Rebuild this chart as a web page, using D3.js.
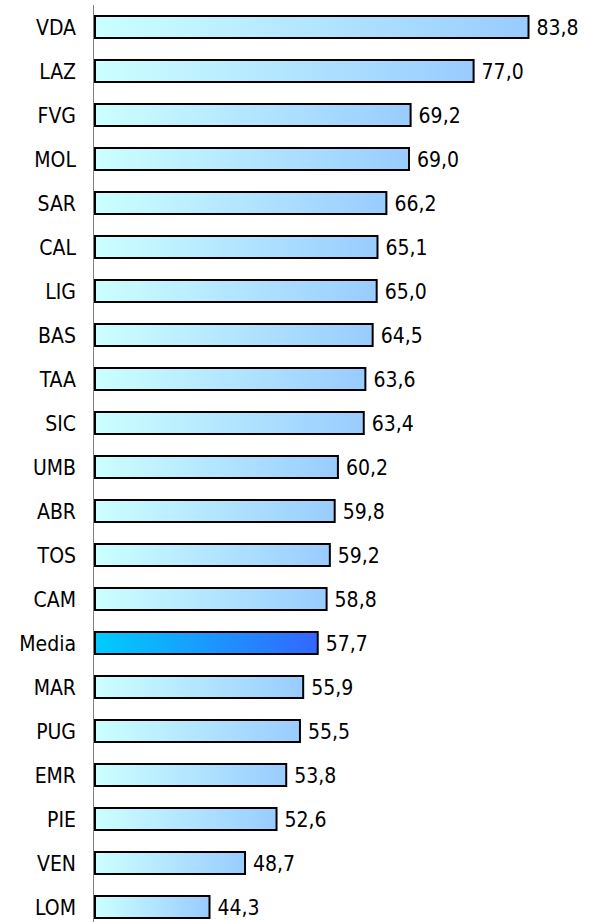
<!DOCTYPE html>
<html>
<head>
<meta charset="utf-8">
<script src="https://cdn.jsdelivr.net/npm/d3@7"></script>
<style>
body { margin: 0; background: #fff; }
text { font-family: "DejaVu Sans Condensed", "DejaVu Sans", sans-serif; font-stretch: condensed; }
</style>
</head>
<body>
<script>
var w = 589;
var h = 922;

// region codes, top to bottom
var regions = ["VDA","LAZ","FVG","MOL","SAR","CAL","LIG","BAS","TAA","SIC","UMB","ABR","TOS","CAM","Media","MAR","PUG","EMR","PIE","VEN","LOM"];
var values = [83.8,77.0,69.2,69.0,66.2,65.1,65.0,64.5,63.6,63.4,60.2,59.8,59.2,58.8,57.7,55.9,55.5,53.8,52.6,48.7,44.3];

var dataset = regions.map(function(r,i){ return {name:r, value:values[i]}; });

var fmt = function(v){ return d3.format(".1f")(v).replace(".", ","); };

var x = d3.scaleLinear().domain([30,90]).range([94,578.6]);
var y = d3.scaleBand().domain(regions).range([5,929]).paddingInner(0.5).paddingOuter(0.25);

var svg = d3.select("body").append("svg")
            .attr("width",w)
            .attr("height",h);

var defs = svg.append("defs");
var g1 = defs.append("linearGradient").attr("id","gBar").attr("x1","0").attr("x2","1").attr("y1","0").attr("y2","0");
g1.append("stop").attr("offset","0").attr("stop-color","#ccffff");
g1.append("stop").attr("offset","1").attr("stop-color","#99ccff");
var g2 = defs.append("linearGradient").attr("id","gMedia").attr("x1","0").attr("x2","1").attr("y1","0").attr("y2","0");
g2.append("stop").attr("offset","0").attr("stop-color","#00ccff");
g2.append("stop").attr("offset","1").attr("stop-color","#3366ff");

// vertical axis line
svg.append("line")
    .attr("x1",93.5).attr("x2",93.5)
    .attr("y1",5).attr("y2",h)
    .attr("stroke","#808080")
    .attr("stroke-width",1);

var gg = svg.selectAll("g.bar")
    .data(dataset)
    .enter()
    .append("g")
    .attr("class","bar");

gg.append("rect")
    .attr("x",x(30)+1)
    .attr("y",function(d){return y(d.name);})
    .attr("width",function(d){return x(d.value)-x(30)-1;})
    .attr("height",y.bandwidth())
    .attr("fill",function(d){return d.name=="Media" ? "url(#gMedia)" : "url(#gBar)";})
    .attr("stroke","#000")
    .attr("stroke-width",2);

gg.append("text")
    .text(function(d){return d.name;})
    .attr("x",76)
    .attr("y",function(d){return y(d.name)+y.bandwidth()/2+8;})
    .attr("text-anchor","end")
    .attr("font-size","21px")
    .attr("fill","#000");

gg.append("text")
    .text(function(d){return fmt(d.value);})
    .attr("x",function(d){return x(d.value)+8;})
    .attr("y",function(d){return y(d.name)+y.bandwidth()/2+8;})
    .attr("text-anchor","start")
    .attr("font-size","21px")
    .attr("fill","#000");
</script>
</body>
</html>
